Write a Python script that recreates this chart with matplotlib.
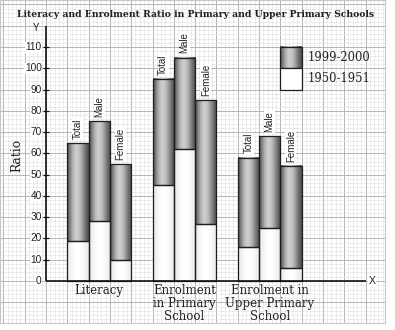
import numpy as np
import matplotlib.pyplot as plt

# data
categories = ["Literacy", "Enrolment\nin Primary\nSchool", "Enrolment in\nUpper Primary\nSchool"]
bar_names = ["Total", "Male", "Female"]
ratio_1950 = [19, 28, 10, 45, 62, 27, 16, 25, 6]      # 1950-1951
ratio_1999 = [65, 75, 55, 95, 105, 85, 58, 68, 54]   # 1999-2000
y_ticks = list(range(0, 120, 10))
series_labels = ["1999-2000", "1950-1951"]

SERIF = "DejaVu Serif"
SANS = "Liberation Sans"

fig = plt.figure(figsize=(3.95, 3.30), dpi=100)
# axes covers the graph-paper area; 1 x unit = one grid cell, 10 y units = one grid cell
ax = fig.add_axes([0, 7 / 330, 385 / 395, 323 / 330])
xlim = (-46 / 21.3, (385 - 46) / 21.3)
ylim = (-(323 - 281) / 2.127, 281 / 2.127)

# graph paper
ax.set_xticks(np.arange(-2, 16, 1))
ax.set_xticks(np.arange(-2, 16, 0.2), minor=True)
ax.set_yticks(np.arange(-10, 140, 10))
ax.set_yticks(np.arange(-18, 134, 2), minor=True)
ax.grid(True, which="major", color="#b4b4b4", lw=0.7)
ax.grid(True, which="minor", color="#dedede", lw=0.4)
ax.tick_params(which="both", length=0, labelbottom=False, labelleft=False)
ax.set_axisbelow(True)
for s in ax.spines.values():
    s.set_color("#c8c8c8")
    s.set_linewidth(0.8)

# bar positions: 3 bars per group, one empty cell between groups
xs = [1 + 4 * g + j for g in range(len(categories)) for j in range(len(bar_names))]
low = np.array(ratio_1950)
high = np.array(ratio_1999)

# cylinder-like shading for the upper (1999-2000) part
t = np.linspace(0, 1, 64)
shade = 0.32 + 0.48 * np.sin(np.pi * t ** 0.85) ** 1.5
grad = np.tile(shade, (2, 1))
shade_w = 0.9 + 0.1 * np.sin(np.pi * t)
grad_w = np.tile(shade_w, (2, 1))

for x, lo, hi in zip(xs, low, high):
    ax.imshow(grad_w, cmap="gray", vmin=0, vmax=1, extent=(x, x + 1, 0, lo),
              aspect="auto", interpolation="bilinear", zorder=3)
    ax.imshow(grad, cmap="gray", vmin=0, vmax=1, extent=(x, x + 1, lo, hi),
              aspect="auto", interpolation="bilinear", zorder=3)

ax.bar(xs, low, width=1, align="edge", facecolor="none", edgecolor="#1e1e1e", lw=0.9, zorder=4)
ax.bar(xs, high - low, bottom=low, width=1, align="edge", facecolor="none",
       edgecolor="#1e1e1e", lw=0.9, zorder=4)

for i, (x, hi) in enumerate(zip(xs, high)):
    ax.annotate(bar_names[i % 3], (x + 0.5, hi), xytext=(0, 3), textcoords="offset points",
                rotation=90, ha="center", va="bottom", fontsize=7, family=SANS,
                color="#222222", zorder=5,
                bbox=dict(boxstyle="square,pad=0.05", fc="white", ec="none"))

# axes lines
ax.plot([0, 0], [0, 120], color="#111111", lw=1.2, zorder=5, solid_capstyle="butt")
ax.plot([0, 15], [0, 0], color="#111111", lw=1.2, zorder=5, solid_capstyle="butt")
ax.hlines(y_ticks[1:], -0.15, 0.15, color="#111111", lw=0.9, zorder=5)
for v in y_ticks:
    ax.text(-0.2, v, str(v), ha="right", va="center", fontsize=7.3, family=SANS,
            color="#222222", zorder=5,
            bbox=dict(boxstyle="square,pad=0.05", fc="white", ec="none"))
ax.text(-0.45, 119, "Y", ha="center", va="center", fontsize=7, family=SANS, color="#222222")
ax.text(15.3, 0, "X", ha="center", va="center", fontsize=7.5, family=SANS, color="#222222",
        bbox=dict(boxstyle="square,pad=0.05", fc="white", ec="none"))

# category labels
for g, cat in enumerate(categories):
    ax.text(2.5 + 4 * g, -1.6, cat, ha="center", va="top", fontsize=8.5, family=SERIF,
            color="#222222", linespacing=1.0, zorder=5)

ax.text(-1.36, 59, "Ratio", rotation=90, ha="center", va="center", fontsize=8.8,
        family=SERIF, color="#222222")

# legend drawn on the grid
ax.imshow(grad, cmap="gray", vmin=0, vmax=1, extent=(11, 12, 100, 110),
          aspect="auto", interpolation="bilinear", zorder=3)
ax.bar([11], [10], bottom=[100], width=1, align="edge", facecolor="none", edgecolor="#1e1e1e", lw=0.9, zorder=4)
ax.bar([11], [10], bottom=[90], width=1, align="edge", facecolor="white", edgecolor="#1e1e1e", lw=0.9, zorder=4)
ax.text(12.3, 105, series_labels[0], ha="left", va="center", fontsize=8.3, family=SERIF, color="#222222")
ax.text(12.3, 95, series_labels[1], ha="left", va="center", fontsize=8.3, family=SERIF, color="#222222")

ax.text(7.0, 125.2, "Literacy and Enrolment Ratio in Primary and Upper Primary Schools",
        ha="center", va="center", fontsize=6.7, family=SERIF, weight="bold", color="#222222")

ax.set_xlim(*xlim)
ax.set_ylim(*ylim)

fig.savefig("out.png", dpi=100, facecolor="white")
